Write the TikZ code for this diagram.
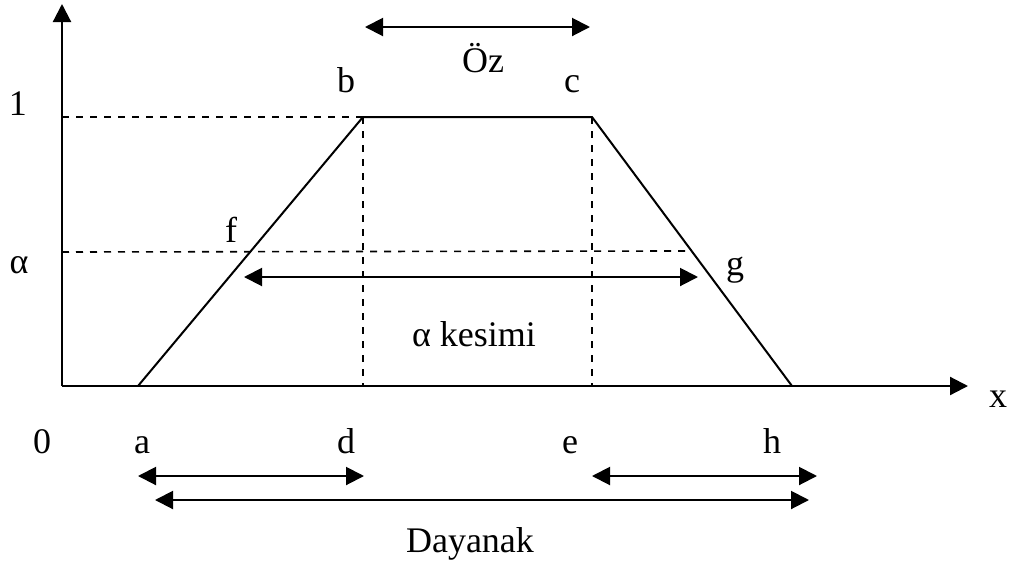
\documentclass[tikz,border=0pt]{standalone}
\usepackage{fontspec}
\setmainfont{Liberation Serif}
\usetikzlibrary{arrows.meta,positioning,calc}

\begin{document}
\begin{tikzpicture}[
    x=0.5pt, y=-0.5pt,
    axis/.style={-{Triangle[length=9pt, width=9pt]}, line width=1.1pt},
    edge/.style={line width=1pt},
    guide/.style={line width=0.8pt, dash pattern=on 3.5pt off 3.5pt},
    span/.style={{Triangle[length=9pt, width=9pt]}-{Triangle[length=9pt, width=9pt]}, line width=1pt},
    lbl/.style={font=\fontsize{18}{21}\selectfont, anchor=base, inner sep=0pt}
]
\useasboundingbox (0,0) rectangle (1014,564);

%% ── Points ────────────────────────────────────────────────────────
\coordinate (O)    at (62,386);
\coordinate (ytop) at (62,4);
\coordinate (xend) at (968,386);
\coordinate (A) at (138,386);
\coordinate (B) at (363,117);
\coordinate (C) at (592,117);
\coordinate (H) at (792,386);
\coordinate (D) at (363,386);
\coordinate (E) at (592,386);
\coordinate (F) at ($(A)!0.502!(B)$);
\coordinate (G) at ($(H)!0.502!(C)$);
\coordinate (one)   at (62,117);
\coordinate (alpha) at (62,252);

%% ── Axes and trapezoid ────────────────────────────────────────────
\draw[axis] (O) -- (ytop);
\draw[axis] (O) -- (xend);
\draw[edge] (A) -- (B) -- (C) -- (H);

%% ── Guides ────────────────────────────────────────────────────────
\draw[guide] (one) -- (B);
\draw[guide] (alpha) -- (G);
\draw[guide] (B) -- (D);
\draw[guide] (C) -- (E);

%% ── Spans ─────────────────────────────────────────────────────────
\coordinate (ozL) at (365,27);   \coordinate (ozR) at (590,27);
\coordinate (akL) at (244,277);  \coordinate (akR) at (698,277);
\coordinate (adL) at (138,476);  \coordinate (adR) at (364,476);
\coordinate (ehL) at (592,476);  \coordinate (ehR) at (817,476);
\coordinate (dyL) at (155,500);  \coordinate (dyR) at (809,500);
\draw[span] (ozL) -- (ozR);
\draw[span] (akL) -- (akR);
\draw[span] (adL) -- (adR);
\draw[span] (ehL) -- (ehR);
\draw[span] (dyL) -- (dyR);

%% ── Labels ────────────────────────────────────────────────────────
\node[lbl] (lone)   at (18,115)  {1};
\node[lbl] (lalpha) at (19,273)  {α};
\node[lbl] (lb)     at (346,92)  {b};
\node[lbl] (lc)     at (572,92)  {c};
\node[lbl] (loz)    at (483,72)  {Öz};
\node[lbl] (lf)     at (231,242) {f};
\node[lbl] (lg)     at (735,275) {g};
\node[lbl] (lak)    at (474,346) {α kesimi};
\node[lbl] (lx)     at (998,407) {x};
\node[lbl] (l0)     at (42,453)  {0};
\node[lbl] (la)     at (142,453) {a};
\node[lbl] (ld)     at (346,453) {d};
\node[lbl] (le)     at (570,453) {e};
\node[lbl] (lh)     at (772,453) {h};
\node[lbl] (ldy)    at (470,552) {Dayanak};
\end{tikzpicture}
\end{document}
